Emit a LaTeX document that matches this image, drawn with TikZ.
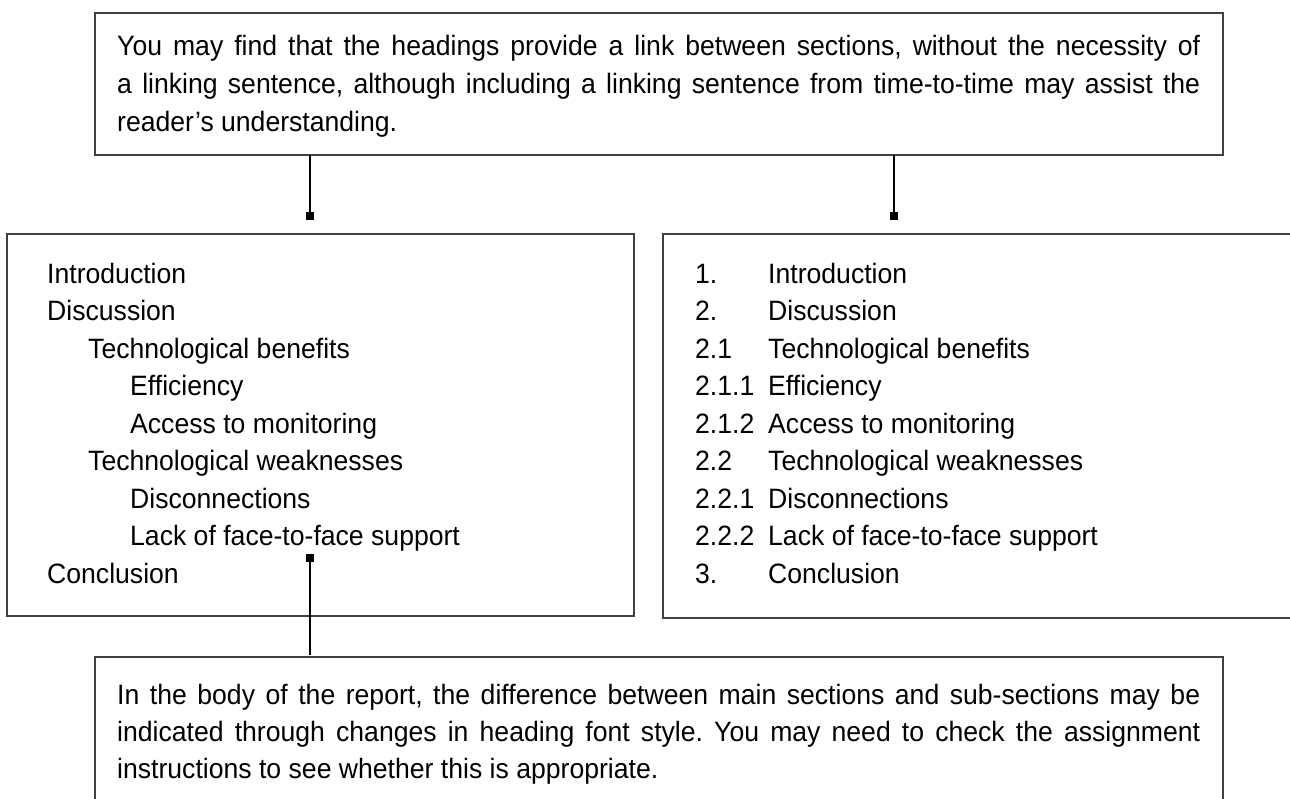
\documentclass[tikz,border=0pt]{standalone}
\usepackage{fontspec}
\setmainfont{Liberation Sans}[FakeStretch=0.95]
\definecolor{boxgray}{gray}{0.25}
\frenchspacing
\begin{document}
\begin{tikzpicture}[x=1pt,y=-1pt,
  box/.style={draw=boxgray, line width=1.8pt, inner sep=0pt, outer sep=0pt},
  txt/.style={anchor=base west, inner sep=0pt, font=\fontsize{28}{37}\selectfont\frenchspacing, text=black},
  conn/.style={draw=black, line width=1.7pt},
  endsq/.style={fill=black, minimum size=7.5pt, inner sep=0pt, outer sep=0pt}]
\useasboundingbox (0,0) rectangle (1290,798);
\clip (0,0) rectangle (1290,798);
% boxes
\node[box, minimum width=1128pt, minimum height=142pt] (top) at (659,84) {};
\node[box, minimum width=627pt, minimum height=382pt] (left) at (320.5,425) {};
\node[box, minimum width=660pt, minimum height=384pt] (right) at (993,426) {};
\node[box, minimum width=1128pt, minimum height=200pt] (bottom) at (659,757) {};
% top text
\node[txt] (t1) at (117,55) {\makebox[1083pt][s]{You may find that the headings provide a link between sections, without the necessity of}};
\node[txt] (t2) at (117,93) {\makebox[1083pt][s]{a linking sentence, although including a linking sentence from time-to-time may assist the}};
\node[txt] (t3) at (117,131) {reader’s understanding.};
% left list
\node[txt] (l1) at (47,283) {Introduction};
\node[txt] (l2) at (47,320.5) {Discussion};
\node[txt] (l3) at (88,358) {Technological benefits};
\node[txt] (l4) at (130,395.5) {Efficiency};
\node[txt] (l5) at (130,433) {Access to monitoring};
\node[txt] (l6) at (88,470.5) {Technological weaknesses};
\node[txt] (l7) at (130,508) {Disconnections};
\node[txt] (l8) at (130,545.5) {Lack of face-to-face support};
\node[txt] (l9) at (47,583) {Conclusion};
% right list
\node[txt] (n1) at (695,283) {1.};     \node[txt] (r1) at (768,283) {Introduction};
\node[txt] (n2) at (695,320.5) {2.};   \node[txt] (r2) at (768,320.5) {Discussion};
\node[txt] (n3) at (695,358) {2.1};    \node[txt] (r3) at (768,358) {Technological benefits};
\node[txt] (n4) at (695,395.5) {2.1.1};\node[txt] (r4) at (768,395.5) {Efficiency};
\node[txt] (n5) at (695,433) {2.1.2};  \node[txt] (r5) at (768,433) {Access to monitoring};
\node[txt] (n6) at (695,470.5) {2.2};  \node[txt] (r6) at (768,470.5) {Technological weaknesses};
\node[txt] (n7) at (695,508) {2.2.1};  \node[txt] (r7) at (768,508) {Disconnections};
\node[txt] (n8) at (695,545.5) {2.2.2};\node[txt] (r8) at (768,545.5) {Lack of face-to-face support};
\node[txt] (n9) at (695,583) {3.};     \node[txt] (r9) at (768,583) {Conclusion};
% bottom text
\node[txt] (b1) at (117,704) {\makebox[1083pt][s]{In the body of the report, the difference between main sections and sub-sections may be}};
\node[txt] (b2) at (117,741) {\makebox[1083pt][s]{indicated through changes in heading font style. You may need to check the assignment}};
\node[txt] (b3) at (117,778) {instructions to see whether this is appropriate.};
% connectors
\coordinate (e1) at (310,216);
\coordinate (e2) at (894,216);
\coordinate (e3) at (310,558);
\draw[conn] (e1 |- top.south) -- (e1);
\draw[conn] (e2 |- top.south) -- (e2);
\draw[conn] (e3) -- ([yshift=2pt]e3 |- bottom.north);
\node[endsq] (s1) at (e1) {};
\node[endsq] (s2) at (e2) {};
\node[endsq] (s3) at (e3) {};
\end{tikzpicture}
\end{document}
